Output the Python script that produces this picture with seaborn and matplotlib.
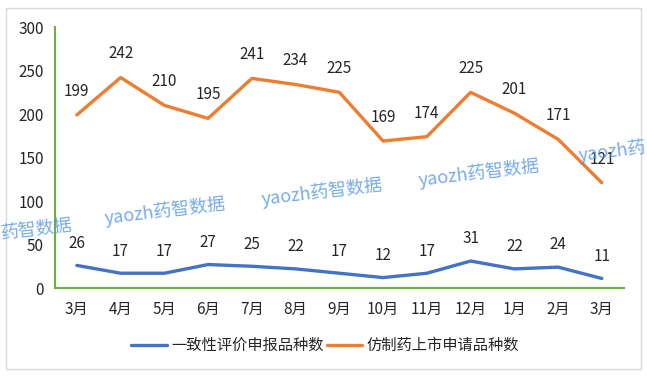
import numpy as np
import pandas as pd
import matplotlib.pyplot as plt
import seaborn as sns

# data
months = ['3月', '4月', '5月', '6月', '7月', '8月', '9月', '10月', '11月', '12月', '1月', '2月', '3月']
consistency = [26, 17, 17, 27, 25, 22, 17, 12, 17, 31, 22, 24, 11]
generic = [199, 242, 210, 195, 241, 234, 225, 169, 174, 225, 201, 171, 121]
series_names = ['一致性评价申报品种数', '仿制药上市申请品种数']

sns.set_theme(style='white')
plt.rcParams['font.family'] = ['Noto Sans CJK SC', 'DejaVu Sans']

pos = np.arange(len(months))
df = pd.DataFrame({
    'pos': np.concatenate([pos, pos]),
    'value': consistency + generic,
    'series': [series_names[0]] * len(pos) + [series_names[1]] * len(pos),
})

fig = plt.figure(figsize=(6.47, 3.76), dpi=100)
ax = fig.add_axes([0.085, 0.234, 0.879, 0.694])

sns.lineplot(data=df, x='pos', y='value', hue='series', hue_order=series_names,
             palette=['#4472c4', '#ed7d31'], linewidth=2.4, ax=ax)

for x, v in zip(pos, consistency):
    ax.annotate(str(v), (x, v), xytext=(0, 16), textcoords='offset points',
                ha='center', va='center', fontsize=11, color='#262626')
for x, v in zip(pos, generic):
    ax.annotate(str(v), (x, v), xytext=(0, 17), textcoords='offset points',
                ha='center', va='center', fontsize=11, color='#262626', zorder=5)

ax.set_xlim(-0.5, 12.5)
ax.set_ylim(0, 300)
ax.set_yticks(range(0, 301, 50))
ax.set_xticks(pos)
ax.set_xticklabels(months)
ax.tick_params(axis='both', length=0, labelsize=11, colors='#262626')
ax.tick_params(axis='x', pad=9)
ax.tick_params(axis='y', pad=8)
ax.set_xlabel('')
ax.set_ylabel('')
for s in ['top', 'right']:
    ax.spines[s].set_visible(False)
for s in ['left', 'bottom']:
    ax.spines[s].set_color('#70ad47')
    ax.spines[s].set_linewidth(1.5)

leg = ax.legend(loc='center', bbox_to_anchor=(0.475, -0.22), ncol=2, frameon=False,
                fontsize=11, handlelength=2.3, columnspacing=0.2, handletextpad=0.3)
for line in leg.get_lines():
    line.set_linewidth(2.4)

# watermarks (the ones at the edges are cut in the original)
wm = dict(fontsize=13, color='#4a90e2', alpha=0.75, rotation=7, va='center', zorder=1)
fig.text(0.0, 0.39, '药智数据', ha='left', **wm)
for mx, my in [(0.255, 0.44), (0.498, 0.49), (0.74, 0.54)]:
    fig.text(mx, my, 'yaozh药智数据', ha='center', **wm)
fig.text(0.893, 0.597, 'yaozh药', ha='left', **wm)

# outer frame
fig.patches.append(plt.Rectangle((0.009, 0.019), 0.982, 0.96, transform=fig.transFigure,
                                 fill=False, edgecolor='#d9d9d9', linewidth=1))

fig.savefig('out.png', dpi=100)
